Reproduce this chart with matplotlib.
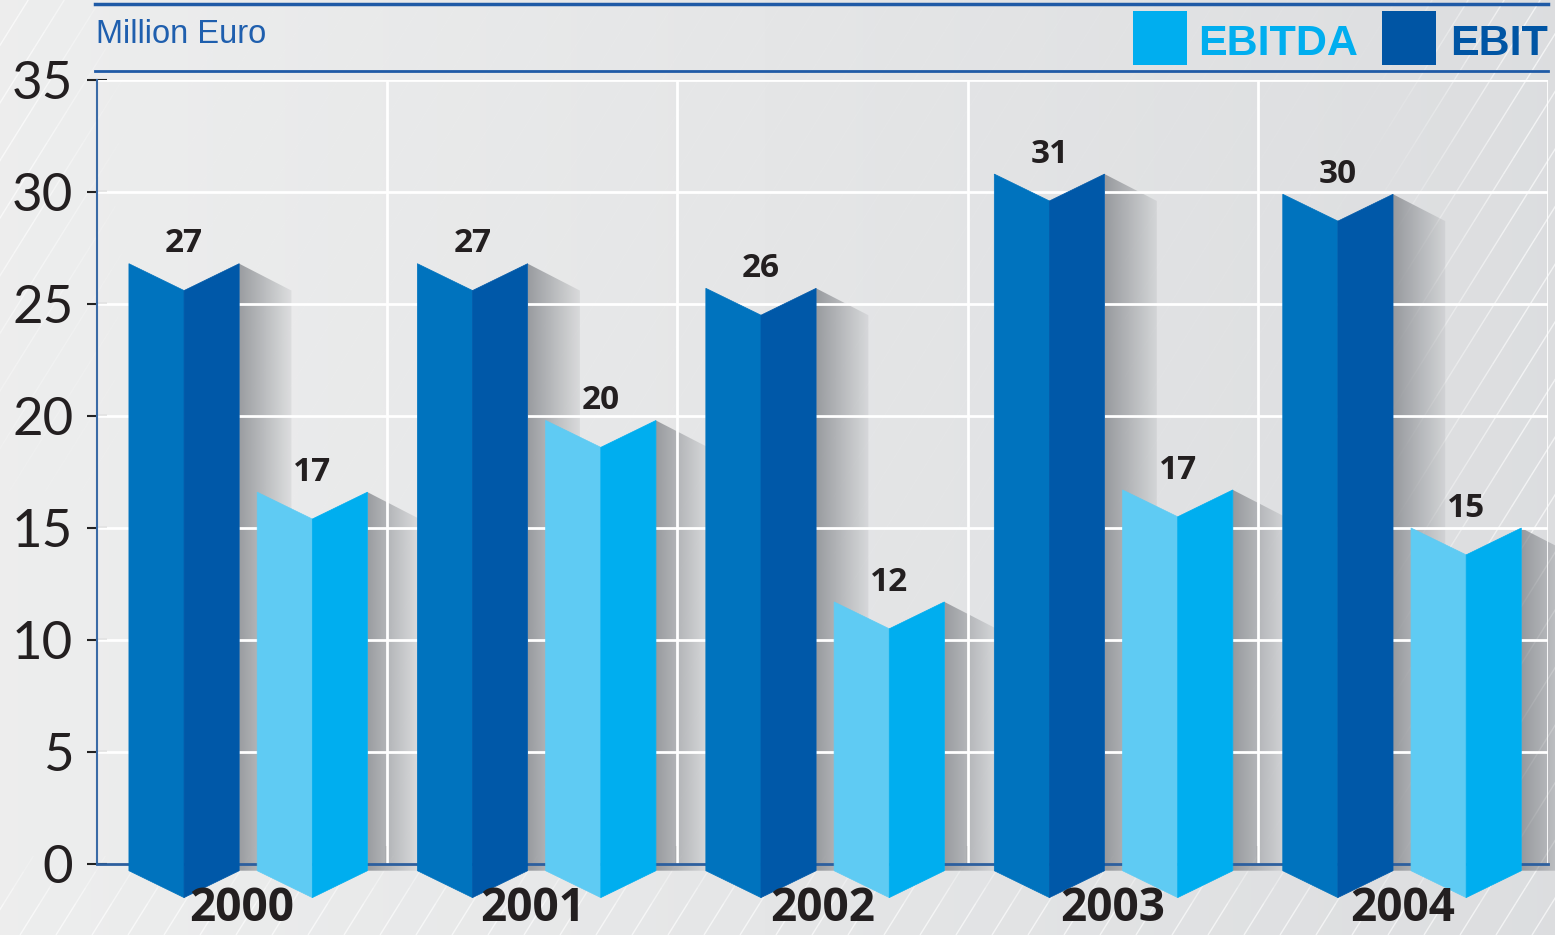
import numpy as np
import matplotlib
matplotlib.use('Agg')
import matplotlib.pyplot as plt
from matplotlib.patches import Polygon, Rectangle
from matplotlib.collections import LineCollection
from matplotlib.lines import Line2D

# Daten
years = ['2000', '2001', '2002', '2003', '2004']
ebit = [26.8, 26.8, 25.7, 30.8, 29.9]      # dunkelblaue Säulen
ebitda = [16.6, 19.8, 11.7, 16.7, 15.0]    # hellblaue Säulen
y_ticks = [0, 5, 10, 15, 20, 25, 30, 35]
unit_label = 'Million Euro'
legend_names = ['EBITDA', 'EBIT']

# Farben
dark_left, dark_right = '#0073be', '#0058a8'
light_left, light_right = '#5fcbf3', '#00aeef'
header_blue = '#1f5aa6'

W, H = 1555, 935
fig = plt.figure(figsize=(W / 100, H / 100), dpi=100)

# Hintergrund mit Verlauf und schrägen Linien
bg = fig.add_axes([0, 0, 1, 1], zorder=-10)
bg.axis('off')
bg.set_xlim(0, W)
bg.set_ylim(H, 0)
c_left = np.array([0.93, 0.933, 0.933])
c_right = np.array([0.865, 0.87, 0.878])
t = np.linspace(0, 1, 256)[None, :, None]
bg.imshow(c_left + (c_right - c_left) * t, extent=[0, W, H, 0], aspect='auto')

ang = np.deg2rad(58)
segs, alphas = [], []
for x0 in np.arange(-700, W + 40, 36):
    xs = np.linspace(x0, x0 + H / np.tan(ang), 60)
    ys = np.linspace(H, 0, 60)
    for k in range(59):
        xm, ym = (xs[k] + xs[k + 1]) / 2, (ys[k] + ys[k + 1]) / 2
        w = max(np.clip((120 - xm) / 90, 0, 1) * np.clip((500 - ym) / 300, 0, 1),
                np.clip((xm - 1380) / 140, 0, 1),
                np.clip((ym - 850) / 60, 0, 1))
        segs.append([(xs[k], ys[k]), (xs[k + 1], ys[k + 1])])
        alphas.append(0.05 + 0.6 * w)
lc = LineCollection(segs, colors=[(1, 1, 1, a) for a in alphas], linewidths=1.0)
bg.add_collection(lc)

# Hauptachse
ax = fig.add_axes([97 / W, 0, 1451 / W, (H - 80) / H])
ax.patch.set_visible(False)
ax.set_xlim(0, len(years))
ax.set_ylim(-3.17, 35)

# Gitter
ax.hlines(y_ticks[1:], 0, len(years), colors='white', linewidth=2, zorder=2)
ax.vlines(np.arange(1, len(years) + 1), 0, 35, colors='white', linewidth=2, zorder=2)

notch = 1.2    # Knick oben/unten
base = 0.3     # Unterkante unter der Null
half = 0.19    # halbe Säulenbreite
shadow_w = 0.18
step = 0.994   # Säulenabstand je Jahr

shade = np.zeros((2, 128, 4))
shade[..., 0] = 0.50
shade[..., 1] = 0.51
shade[..., 2] = 0.53
shade[..., 3] = np.linspace(0.75, 0.12, 128)[None, :]


def folded_bar(x_left, v, c1, c2):
    xm, xr = x_left + half, x_left + 2 * half
    # Schatten
    sh = Polygon([(xr, v), (xr + shadow_w, v - notch), (xr + shadow_w, -base), (xr, -base)],
                 closed=True, facecolor='none', edgecolor='none', transform=ax.transData)
    ax.add_patch(sh)
    im = ax.imshow(shade, extent=[xr, xr + shadow_w, -base, v], aspect='auto', zorder=1)
    im.set_clip_path(sh)
    im.set_clip_box(fig.bbox)
    ax.add_patch(Polygon([(x_left, v), (xm, v - notch), (xm, -base - notch), (x_left, -base)],
                         closed=True, facecolor=c1, edgecolor=c1, linewidth=0.5, zorder=3))
    ax.add_patch(Polygon([(xm, v - notch), (xr, v), (xr, -base), (xm, -base - notch)],
                         closed=True, facecolor=c2, edgecolor=c2, linewidth=0.5, zorder=3))
    ax.text(xm, v + 0.5, f'{round(v):d}', ha='center', va='baseline', fontsize=24,
            fontweight='bold', family=['Open Sans', 'DejaVu Sans'], color='#231f20', zorder=4)


for i in range(len(years)):
    folded_bar(0.110 + step * i, ebit[i], dark_left, dark_right)
    folded_bar(0.552 + step * i, ebitda[i], light_left, light_right)
    ax.text(i + 0.5, -2.55, years[i], ha='center', va='baseline', fontsize=33,
            fontweight='bold', family=['Open Sans', 'DejaVu Sans'], color='#231f20', zorder=4)

# Achsen
for s in ['top', 'right']:
    ax.spines[s].set_visible(False)
ax.spines['left'].set_bounds(0, 35)
ax.spines['left'].set_color('#3a6aa6')
ax.spines['left'].set_linewidth(1.5)
ax.spines['bottom'].set_position(('data', 0))
ax.spines['bottom'].set_color('#2d5f9e')
ax.spines['bottom'].set_linewidth(2)
ax.spines['bottom'].set_zorder(2.5)

ax.set_yticks(y_ticks)
ax.set_yticklabels([str(v) for v in y_ticks], family=['Lato', 'DejaVu Sans'],
                   fontweight='normal', fontsize=38, color='#231f20')
ax.tick_params(axis='y', direction='inout', length=14, width=1.5, color='#222222', pad=10)
ax.set_xticks(np.arange(1, len(years)))
ax.set_xticklabels([])
ax.tick_params(axis='x', direction='in', length=13, width=1.5, color='#222222')

# Kopfzeile
fig.add_artist(Line2D([95 / W, 1548 / W], [1 - 4 / H, 1 - 4 / H], color=header_blue, linewidth=2.5))
fig.add_artist(Line2D([95 / W, 1548 / W], [1 - 71 / H, 1 - 71 / H], color=header_blue, linewidth=2))
fig.text(96 / W, 1 - 43 / H, unit_label, fontsize=23.5, color='#1f5fae',
         family=['Liberation Sans Narrow', 'Liberation Sans', 'DejaVu Sans'], va='baseline', ha='left')

# Legende
fig.add_artist(Rectangle((1133 / W, 1 - 65 / H), 54 / W, 54 / H, transform=fig.transFigure,
                         facecolor=light_right, edgecolor='none'))
fig.text(1198 / W, 1 - 55 / H, legend_names[0], fontsize=31, color=light_right, fontweight='bold',
         family=['Liberation Sans', 'DejaVu Sans'], va='baseline', ha='left')
fig.add_artist(Rectangle((1382 / W, 1 - 65 / H), 54 / W, 54 / H, transform=fig.transFigure,
                         facecolor='#0055a4', edgecolor='none'))
fig.text(1450 / W, 1 - 55 / H, legend_names[1], fontsize=31, color='#0055a4', fontweight='bold',
         family=['Liberation Sans', 'DejaVu Sans'], va='baseline', ha='left')

fig.savefig('out.png', dpi=100)
